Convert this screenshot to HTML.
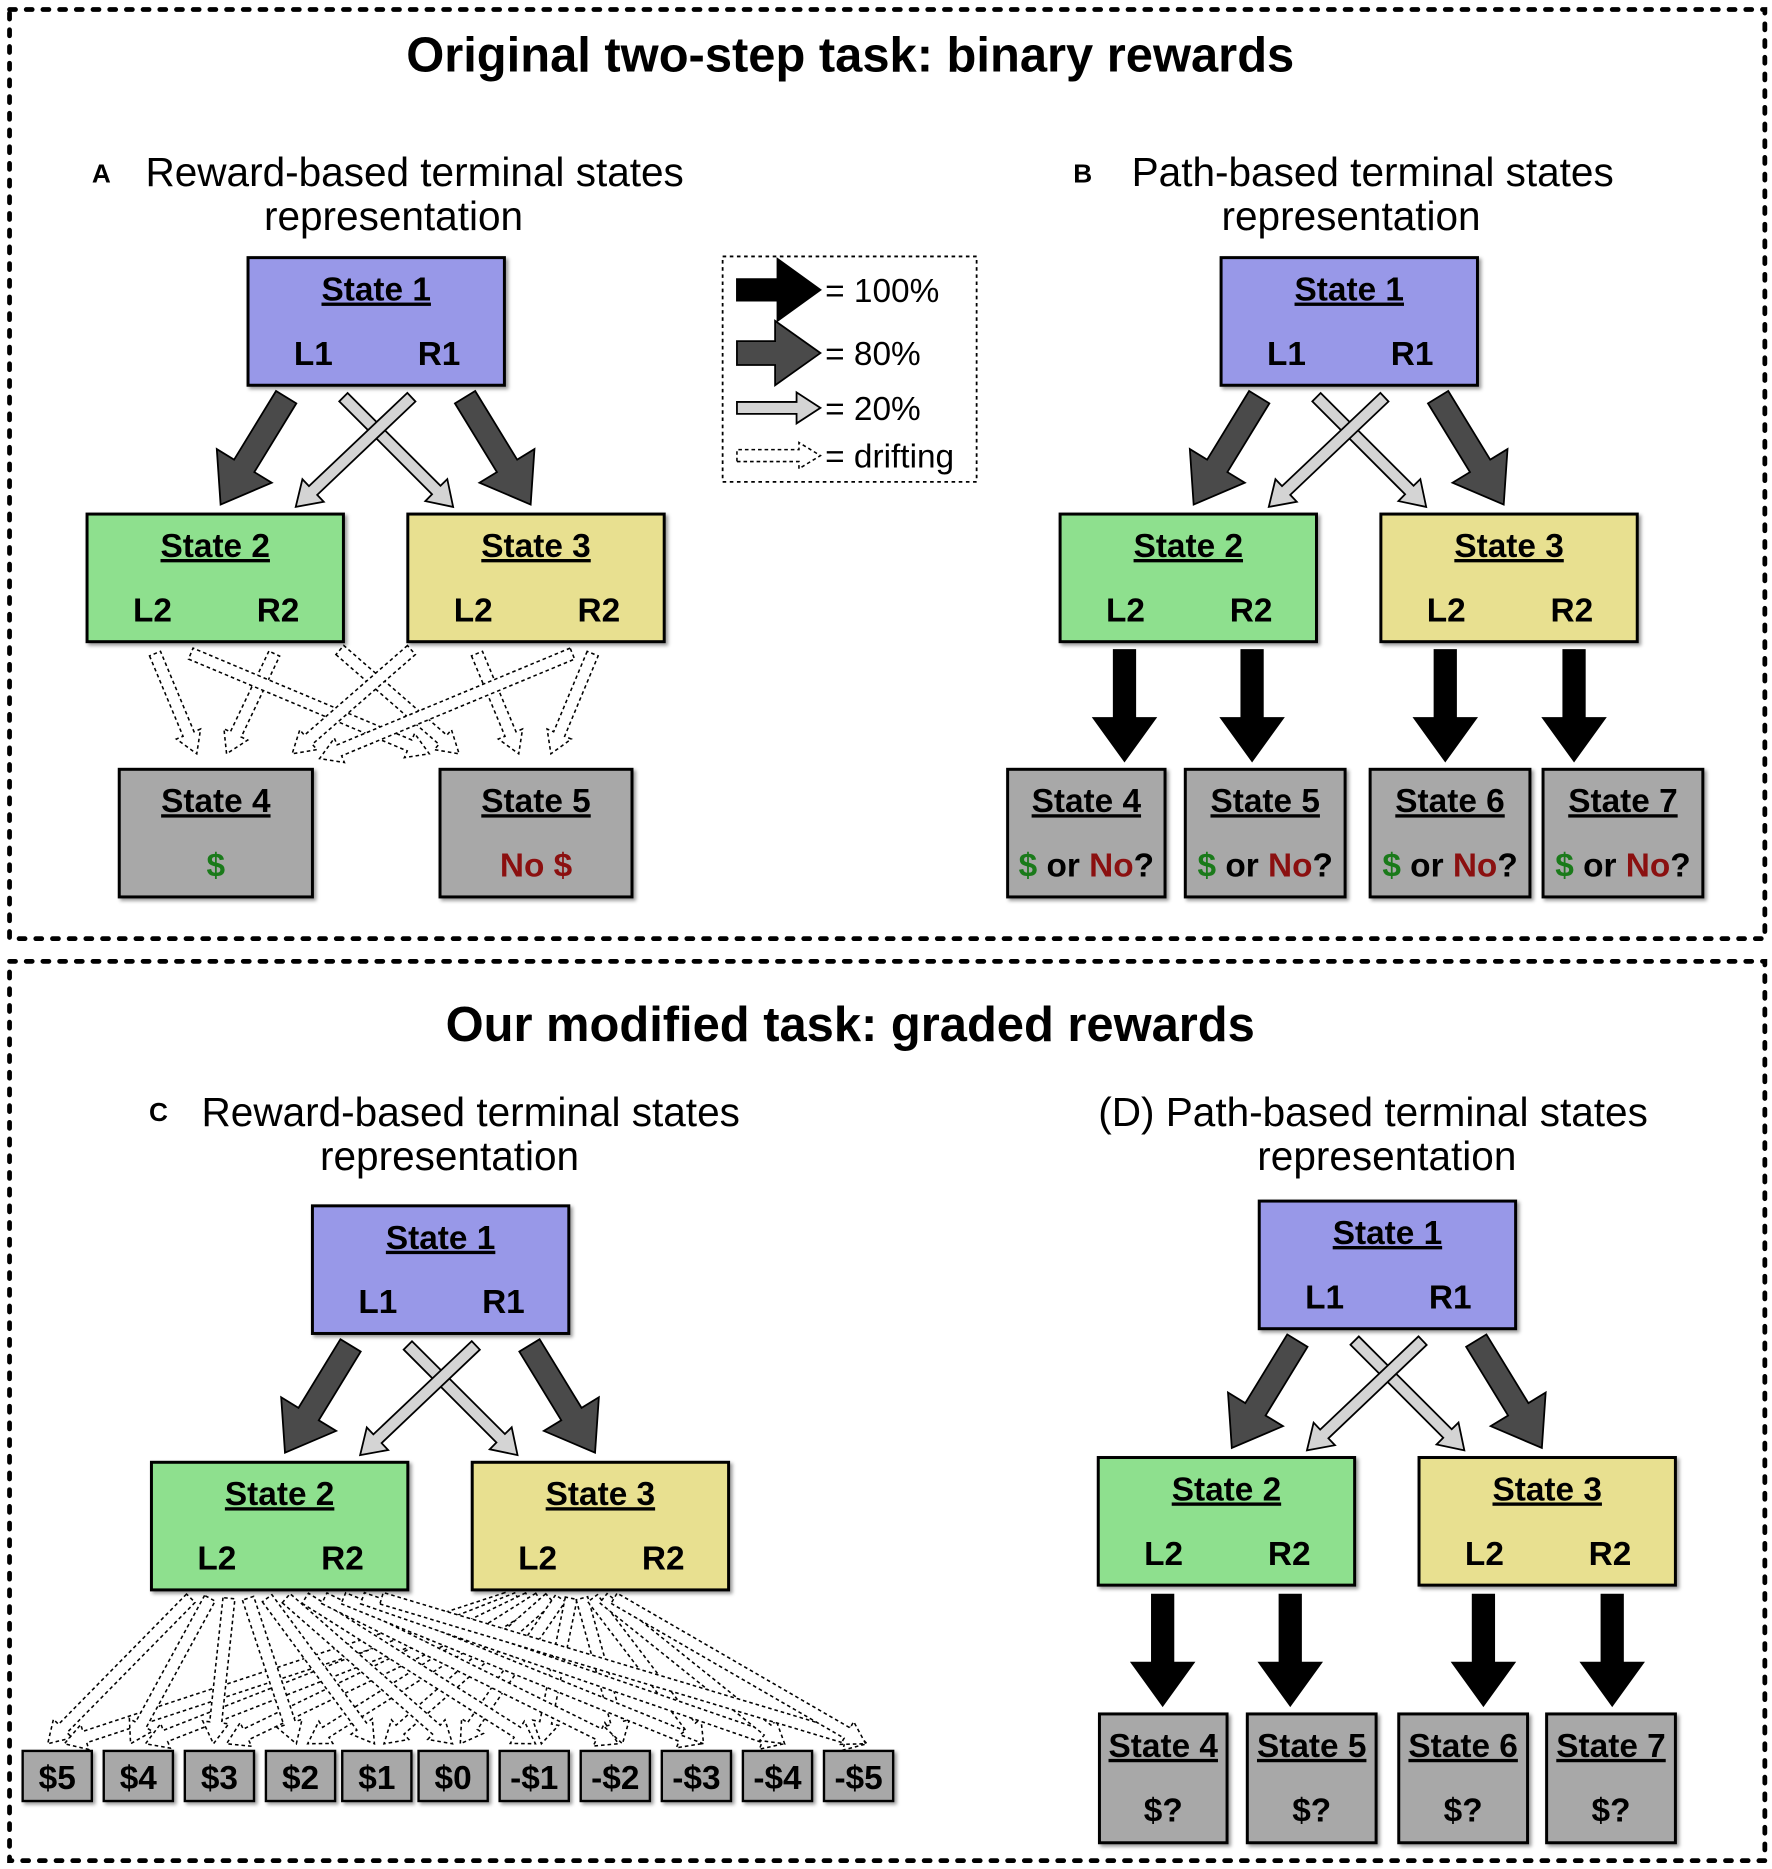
<!DOCTYPE html>
<html><head><meta charset="utf-8"><style>
html,body{margin:0;padding:0;background:#fff}
svg{display:block}
text{font-family:"Liberation Sans",Arial,sans-serif}
.t{font-weight:bold;font-size:28px;text-decoration:underline}
.b{font-weight:bold;font-size:28px}
.h{font-weight:bold;font-size:41px}
.s{font-size:34px}
.lg{font-size:28px}
</style></head><body>
<svg id="s" width="1772" height="1869" viewBox="0 0 1486 1567" preserveAspectRatio="none" xmlns="http://www.w3.org/2000/svg">
<defs><filter id="sh" x="-10%" y="-10%" width="130%" height="130%"><feDropShadow dx="2" dy="2" stdDeviation="1.5" flood-opacity="0.4"/></filter></defs>
<rect x="8" y="8" width="1472" height="779" fill="none" stroke="#000" stroke-width="4" stroke-dasharray="5,9" stroke-linecap="round"/>
<rect x="8" y="806" width="1472" height="754" fill="none" stroke="#000" stroke-width="4" stroke-dasharray="5,9" stroke-linecap="round"/>
<text class="h" x="713" y="60" text-anchor="middle">Original two-step task: binary rewards</text>
<text class="h" x="713" y="873" text-anchor="middle">Our modified task: graded rewards</text>
<text x="77" y="153" font-weight="bold" font-size="22">A</text>
<text class="s" x="122" y="156">Reward-based terminal states</text>
<text class="s" x="330" y="193" text-anchor="middle">representation</text>
<text x="900" y="153" font-weight="bold" font-size="22">B</text>
<text class="s" x="949" y="156">Path-based terminal states</text>
<text class="s" x="1133" y="193" text-anchor="middle">representation</text>
<text x="125" y="940" font-weight="bold" font-size="22">C</text>
<text class="s" x="169" y="944">Reward-based terminal states</text>
<text class="s" x="377" y="981" text-anchor="middle">representation</text>
<text class="s" x="921" y="944">(D) Path-based terminal states</text>
<text class="s" x="1163" y="981" text-anchor="middle">representation</text>
<rect x="606" y="215" width="213" height="189" fill="none" stroke="#000" stroke-width="1.5" stroke-dasharray="3,3"/>
<text class="lg" x="692" y="253">= 100%</text>
<text class="lg" x="692" y="306">= 80%</text>
<text class="lg" x="692" y="352">= 20%</text>
<text class="lg" x="692" y="392">= drifting</text>
<g id="arrows"></g>
<g id="boxes"></g>
</svg>
<script>
var NS="http://www.w3.org/2000/svg";
var AG=document.getElementById('arrows'),BG=document.getElementById('boxes');
function arrow(x1,y1,x2,y2,sw,hw,hl,fill,dash){
 var dx=x2-x1,dy=y2-y1,L=Math.hypot(dx,dy),ux=dx/L,uy=dy/L,px=-uy,py=ux;
 var bx=x2-ux*hl,by=y2-uy*hl;
 var pts=[[x1+px*sw,y1+py*sw],[bx+px*sw,by+py*sw],[bx+px*hw,by+py*hw],[x2,y2],[bx-px*hw,by-py*hw],[bx-px*sw,by-py*sw],[x1-px*sw,y1-py*sw]];
 var p=document.createElementNS(NS,'polygon');
 p.setAttribute('points',pts.map(function(a){return a[0].toFixed(1)+','+a[1].toFixed(1)}).join(' '));
 p.setAttribute('fill',fill);p.setAttribute('stroke','#000');
 p.setAttribute('stroke-width',dash?1.3:1.5);p.setAttribute('stroke-linejoin','miter');
 if(dash)p.setAttribute('stroke-dasharray','3,2.5');
 AG.appendChild(p);
}
function dark(a,b,c,d){arrow(a,b,c,d,10,27,38,'#4a4a4a')}
function light(a,b,c,d){arrow(a,b,c,d,5,13,20,'#d4d4d4')}
function black(a,b,c,d){arrow(a,b,c,d,9,26,36,'#000')}
function drift(a,b,c,d){arrow(a,b,c,d,5,11,18,'#fff',1)}
// legend
black(618,243,688,243);dark(618,296,688,296);light(618,342,688,342);drift(618,382,688,382);
function top3(ox,oy){
 dark(ox+240,oy+333,ox+185,oy+423);dark(ox+390,oy+333,ox+445,oy+423);
 light(ox+288,oy+333,ox+380,oy+425);light(ox+345,oy+333,ox+248,oy+425);
}
top3(0,0);top3(816,0);top3(54,795);top3(848,791);
// A drifts
drift(130,548,165,632);drift(230,548,190,632);drift(160,548,360,632);drift(285,545,385,632);
drift(345,545,245,632);drift(400,548,435,632);drift(497,548,462,632);drift(480,548,268,636);
// B & D blacks
[943,1050,1212,1320].forEach(function(x){black(x,545,x,638)});
[975,1082,1244,1352].forEach(function(x){black(x,1337,x,1430)});
// C drifts
var tx=[48,116,184,252,316,380,448,516,584,652,720];
tx.forEach(function(x,i){drift(160+i*16,1340,x-8+i*1.5,1462);drift(425+i*9,1340,x+6,1462);});
function box(x,y,w,h,fill,title,l,r){
 var g=document.createElementNS(NS,'g');
 var s='<rect x="'+x+'" y="'+y+'" width="'+w+'" height="'+h+'" fill="'+fill+'" stroke="#000" stroke-width="2.5" filter="url(#sh)"/>';
 s+='<text class="t" x="'+(x+w/2)+'" y="'+(y+36)+'" text-anchor="middle">'+title+'</text>';
 if(r!==undefined){s+='<text class="b" x="'+(x+w*0.255)+'" y="'+(y+90)+'" text-anchor="middle">'+l+'</text><text class="b" x="'+(x+w*0.745)+'" y="'+(y+90)+'" text-anchor="middle">'+r+'</text>';}
 else if(l){s+='<text class="b" x="'+(x+w/2)+'" y="'+(y+90)+'" text-anchor="middle">'+l+'</text>';}
 g.innerHTML=s;BG.appendChild(g);
}
var BL='#9898e8',GR='#8ee08e',YE='#e8e090',GY='#a8a8a8';
var G='<tspan fill="#1a7a1a">$</tspan>',R='#8b1010';
function trio(ox,oy){
 box(ox+208,oy+216,215,107,BL,'State 1','L1','R1');
 box(ox+73,oy+431,215,107,GR,'State 2','L2','R2');
 box(ox+342,oy+431,215,107,YE,'State 3','L2','R2');
}
trio(0,0);trio(816,0);trio(54,795);trio(848,791);
box(100,645,162,107,GY,'State 4',G);
box(369,645,161,107,GY,'State 5','<tspan fill="'+R+'">No $</tspan>');
var qs=G+' or <tspan fill="'+R+'">No</tspan>?';
[[845,132,4],[994,134,5],[1149,134,6],[1294,134,7]].forEach(function(a){box(a[0],645,a[1],107,GY,'State '+a[2],qs)});
[[922,107,4],[1046,108,5],[1173,108,6],[1297,108,7]].forEach(function(a){box(a[0],1437,a[1],108,GY,'State '+a[2],'$?')});
['$5','$4','$3','$2','$1','$0','-$1','-$2','-$3','-$4','-$5'].forEach(function(t,i){
 var x=tx[i]-29;var g=document.createElementNS(NS,'g');
 g.innerHTML='<rect x="'+x+'" y="1468" width="58" height="42" fill="'+GY+'" stroke="#000" stroke-width="2" filter="url(#sh)"/><text class="b" x="'+tx[i]+'" y="1500" text-anchor="middle">'+t+'</text>';
 BG.appendChild(g);
});
</script>
</body></html>
